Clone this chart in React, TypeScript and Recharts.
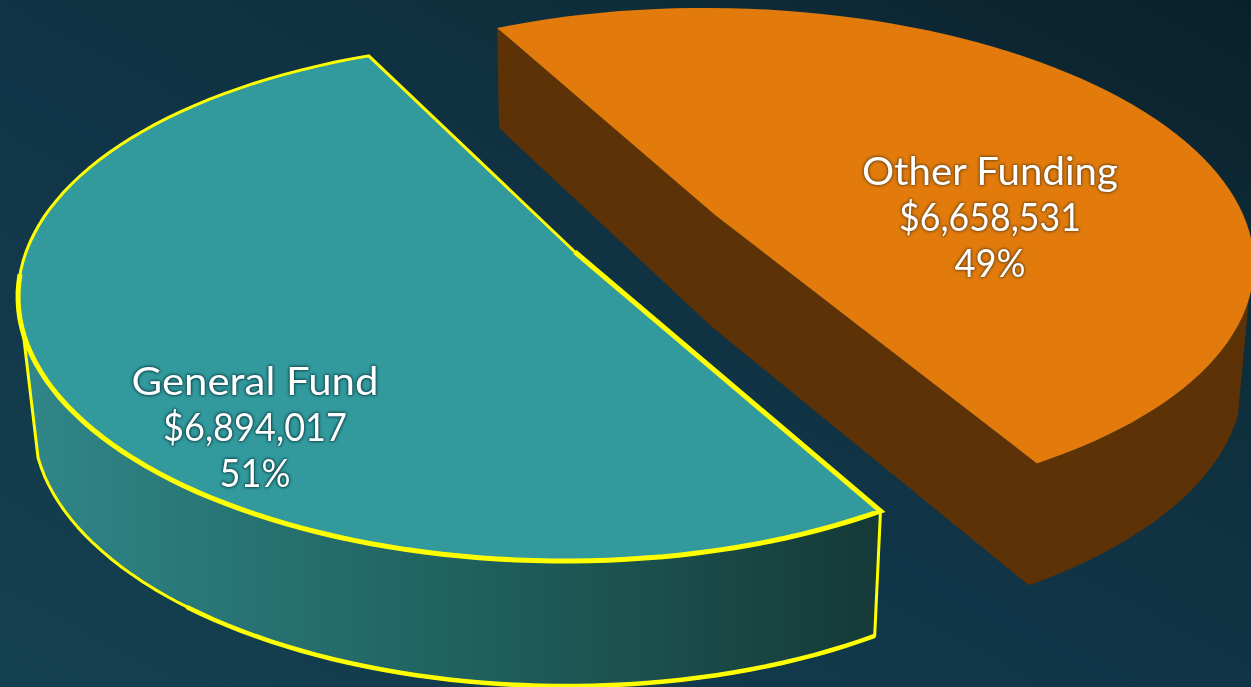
import React from "react";
import { PieChart, Pie } from "recharts";

const categories = ["General Fund", "Other Funding"];
const amounts = [6894017, 6658531];
const sliceFills = ["#329a9d", "#e27b0c"];

const chartData = categories.map((name, i) => ({ name, value: amounts[i], fill: sliceFills[i] }));

// How the flat pie is laid into the tilted, exploded view.
const FIRST_ANGLE = -52.9;
const views = [
  {
    apex: [575, 252], apexLow: [575, 252], edgeLow: [575, 252],
    top: { x: 556, y: 301, rx: 538, ry: 260, skew: 0.008 },
    low: { x: 558, y: 426, rx: 525, ry: 260, skew: 0.008 },
    shift: 0, stretch: 1.0743, sideFrom: 52.9, sideTo: 172,
    sideFill: "url(#gfSide)", stroke: "#ffff00",
    label: [255, 395], widths: [247, 184, 71],
  },
  {
    apex: [715, 215], apexLow: [712, 327], edgeLow: [499, 128],
    top: { x: 720, y: 258, rx: 534, ry: 250, skew: 0.013 },
    low: { x: 716, y: 380, rx: 527, ry: 255, skew: 0 },
    shift: 9.3, stretch: 0.9514, sideFrom: 8, sideTo: 53.6,
    sideFill: "#5c3206", stroke: "none",
    label: [990, 185], widths: [256, 182, 71],
  },
];

type E = { x: number; y: number; rx: number; ry: number; skew: number };
const at = (e: E, t: number): [number, number] => {
  const r = (t * Math.PI) / 180;
  const dx = e.rx * Math.cos(r);
  return [e.x + dx, e.y + e.ry * Math.sin(r) + e.skew * dx];
};
const arc = (e: E, from: number, to: number): [number, number][] => {
  const n = Math.max(2, Math.ceil(Math.abs(to - from) / 2));
  const out: [number, number][] = [];
  for (let i = 0; i <= n; i++) out.push(at(e, from + ((to - from) * i) / n));
  return out;
};
const path = (pts: number[][], close = true) =>
  "M" + pts.map((p) => `${p[0].toFixed(1)},${p[1].toFixed(1)}`).join("L") + (close ? "Z" : "");

const SliceShape = (props: any) => {
  const idx = categories.indexOf(props.name ?? props.payload?.name);
  const v = views[idx];
  const span = props.startAngle - props.endAngle;
  const tStart = -props.startAngle + v.shift;
  const tEnd = tStart + span * v.stretch;
  const topArc = arc(v.top, tStart, tEnd);
  let wall: number[][];
  if (idx === 0) {
    wall = [...arc(v.top, v.sideFrom, v.sideTo), ...arc(v.low, v.sideTo, v.sideFrom)];
  } else {
    wall = [
      at(v.top, tStart), v.apex, at(v.top, tEnd),
      ...arc(v.top, tEnd, v.sideFrom + 360),
      ...arc(v.low, v.sideFrom + 360, tEnd),
      v.apexLow,
      v.edgeLow,
    ];
  }
  const outlined = v.stroke !== "none";
  return (
    <g>
      <path d={path(wall)} fill={v.sideFill} stroke={v.stroke} strokeWidth={3} strokeLinejoin="round" />
      {outlined && (
        <path d={path(arc(v.low, v.sideFrom, 135), false)} fill="none" stroke={v.stroke} strokeWidth={4.5} />
      )}
      <path d={path([v.apex, ...topArc])} fill={props.fill} stroke={v.stroke} strokeWidth={3} />
      {outlined && (
        <path
          d={path([v.apex, ...arc(v.top, tStart, 185).reverse().reverse()].slice(0), false)}
          fill="none"
          stroke={v.stroke}
          strokeWidth={5}
          strokeLinejoin="miter"
        />
      )}
    </g>
  );
};

const SliceLabel = (props: any) => {
  const idx = categories.indexOf(props.name);
  const v = views[idx];
  const [x, y] = v.label;
  const glow = idx === 0 ? "#0f4a50" : "#7a4a12";
  const lines = [props.name, "$" + props.value.toLocaleString("en-US"), Math.round(props.percent * 100) + "%"];
  return (
    <g style={{ filter: `drop-shadow(0 0 1.5px ${glow}) drop-shadow(0 0 1px ${glow})` }}>
      {lines.map((s: string, i: number) => (
        <text
          key={i}
          x={x}
          y={y + i * 46}
          textAnchor="middle"
          fill="#ffffff"
          fontFamily="Lato, sans-serif"
          fontWeight={400}
          fontSize={39}
          textLength={v.widths[i]}
          lengthAdjust="spacingAndGlyphs"
        >
          {s}
        </text>
      ))}
    </g>
  );
};

export default function App() {
  return (
    <div
      style={{
        position: "fixed",
        left: 0,
        top: 0,
        width: 1251,
        height: 687,
        overflow: "hidden",
        background: "linear-gradient(28deg, #144150 0%, #113548 45%, #0f2f3c 70%, #0a212b 100%)",
      }}
    >
      <PieChart width={1251} height={687} margin={{ top: 0, right: 0, bottom: 0, left: 0 }}>
        <defs>
          <linearGradient id="gfSide" gradientUnits="userSpaceOnUse" x1="20" y1="0" x2="875" y2="0">
            <stop offset="0%" stopColor="#308789" />
            <stop offset="50%" stopColor="#206260" />
            <stop offset="100%" stopColor="#153a37" />
          </linearGradient>
        </defs>
        <Pie
          data={chartData}
          dataKey="value"
          nameKey="name"
          cx={625}
          cy={343}
          outerRadius={300}
          startAngle={FIRST_ANGLE}
          endAngle={FIRST_ANGLE - 360}
          stroke="none"
          isAnimationActive={false}
          shape={SliceShape}
          label={SliceLabel}
          labelLine={false}
        />
      </PieChart>
    </div>
  );
}
